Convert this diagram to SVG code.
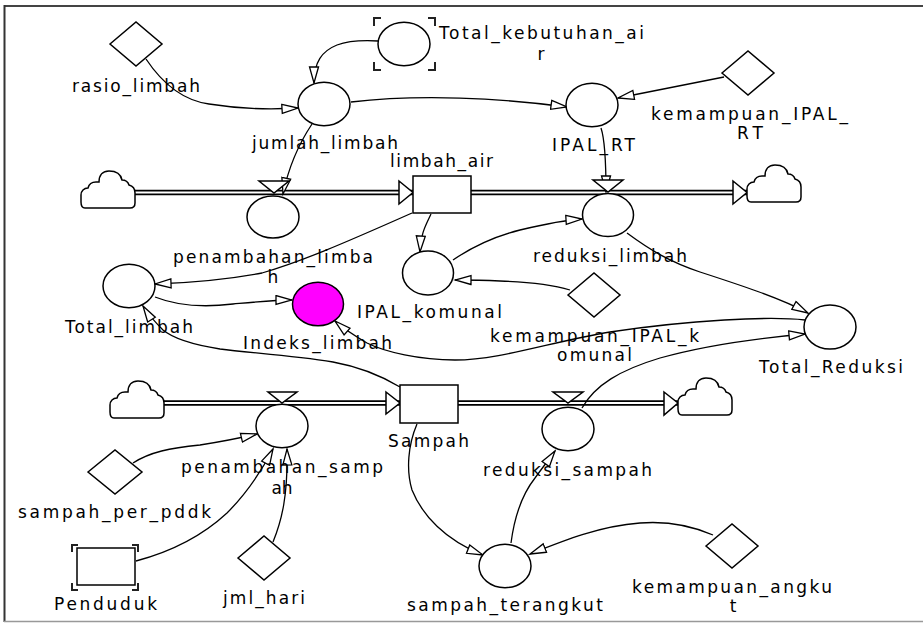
<svg xmlns="http://www.w3.org/2000/svg" xmlns:xlink="http://www.w3.org/1999/xlink" width="923" height="623" viewBox="0 0 923 623">
  <defs>
    <style>
      .lbl { font-family: "DejaVu Sans", Verdana, sans-serif; font-size: 17px; fill: #000; text-anchor: middle; }
      .aux { fill: #fff; stroke: #000; stroke-width: 1.5; }
      .mag { fill: #ff00ff; stroke: #000; stroke-width: 1.5; }
      .ghost { fill: none; stroke: #222; stroke-width: 2; }
      .link { fill: none; stroke: #000; stroke-width: 1.3; marker-end: url(#arrow); }
      .pipe-out { fill: none; stroke: #000; stroke-width: 5.5; }
      .pipe-in { fill: none; stroke: #fff; stroke-width: 2.2; }
      .head { fill: #fff; stroke: #000; stroke-width: 1.5; stroke-linejoin: miter; }
      .cloud { fill: #fff; stroke: #000; stroke-width: 1.5; }
    </style>
    <marker id="arrow" markerUnits="userSpaceOnUse" viewBox="-1 -1 19 12" markerWidth="19" markerHeight="12" refX="16" refY="4.5" orient="auto">
      <path d="M0,0 L16,4.5 L0,9 Z" fill="#fff" stroke="#000" stroke-width="1.3"/>
    </marker>
    <path id="cloudShape" class="cloud" d="M4,38 C1,38 0,35 0,32 L0,25 C0,21 3,18 7,18 C8,14 11,12 15,12 L18,12 C18,5 22,1 28,1 C36,1 40,5 41,10 C45,10 47,12 48,15 C52,16 54,19 54,23 L54,33 C54,36 52,38 49,38 Z"/>
  </defs>

  <rect width="923" height="623" fill="#fff"/>

  <!-- frame -->
  <g id="frame">
    <line x1="4" y1="6" x2="923" y2="6" stroke="#444" stroke-width="2"/>
    <line x1="4.5" y1="5" x2="4.5" y2="622" stroke="#333" stroke-width="2"/>
    <line x1="4" y1="621.5" x2="923" y2="621.5" stroke="#999" stroke-width="1.5"/>
  </g>

  <!-- material flows (pipes) -->
  <g id="flows">
    <path class="pipe-out" d="M135,192.5 H413 M471,192.5 H747"/>
    <path class="pipe-in" d="M134,192.5 H413 M471,192.5 H747"/>
    <path class="pipe-out" d="M164,403 H400 M458,403 H678"/>
    <path class="pipe-in" d="M163,403 H400 M458,403 H678"/>
    <polygon class="head" points="399,181 413,192.5 399,204"/>
    <polygon class="head" points="733,181 747,192.5 733,204"/>
    <polygon class="head" points="386,392 400,403 386,414"/>
    <polygon class="head" points="664,392 678,403 664,415"/>
    <use xlink:href="#cloudShape" transform="translate(81,170)"/>
    <use xlink:href="#cloudShape" transform="translate(747,164)"/>
    <use xlink:href="#cloudShape" transform="translate(110,380)"/>
    <use xlink:href="#cloudShape" transform="translate(678,377)"/>
  </g>

  <!-- information links -->
  <g id="connectors">
    <path class="link" d="M146,59 C160,80 180,100 209,104 C240,109 265,110 298,108"/>
    <path class="link" d="M378,41 C360,40 345,42 337,45 C322,51 314,62 314,83"/>
    <path class="link" d="M312,124 C298,145 288,170 283,194"/>
    <path class="link" d="M351,102 C420,94 500,98 567,107"/>
    <path class="link" d="M724,77 L618,98"/>
    <path class="link" d="M601,128 C605,140 606,160 606,192"/>
    <path class="link" d="M412,213 C340,245 300,262 262,273 C220,281 185,283 155,284"/>
    <path class="link" d="M431,214 C426,225 421,232 420,252"/>
    <path class="link" d="M453,260 C475,245 500,235 520,230 C545,224 565,220 582,219"/>
    <path class="link" d="M570,290 C550,284 530,282 500,281 C480,280 468,280 455,280"/>
    <path class="link" d="M627,233 C650,250 670,262 700,272 C740,285 780,298 808,313"/>
    <path class="link" d="M805,320 C770,316 690,320 610,332 C550,342 500,360 455,360 C420,360 385,352 367,343 C355,336 343,328 335,321"/>
    <path class="link" d="M155,297 C175,305 200,308 233,304 C255,302 275,300 292,300"/>
    <path class="link" d="M400,387 C380,375 355,366 333,362 C290,355 250,353 220,349 C195,345 175,340 163,330 C155,322 148,314 143,306"/>
    <path class="link" d="M133,463 C150,452 170,448 200,445 C225,441 240,438 257,434"/>
    <path class="link" d="M136,561 C170,552 200,538 227,513 C245,495 262,470 273,449"/>
    <path class="link" d="M273,542 C282,520 288,495 287,449"/>
    <path class="link" d="M417,424 C408,445 406,470 412,490 C422,515 445,540 483,555"/>
    <path class="link" d="M511,543 C514,520 520,497 535,478 C543,467 550,458 555,451"/>
    <path class="link" d="M713,535 C690,525 665,521 640,523 C600,526 565,540 530,554"/>
    <path class="link" d="M582,408 C595,385 620,370 660,358 C710,344 760,338 805,334"/>
  </g>

  <!-- valves -->
  <g id="valves">
    <polygon class="head" points="259,181 289,181 274,193"/>
    <polygon class="head" points="593,180 623,180 608,192"/>
    <polygon class="head" points="268,392 297,392 282,403"/>
    <polygon class="head" points="553,392 583,392 568,403"/>
  </g>

  <g id="rasio_limbah">
    <polygon class="aux" points="110,44 136,22 162,44 136,66"/>
    <text class="lbl" x="136" y="92" textLength="128" lengthAdjust="spacing">rasio_limbah</text>
  </g>

  <g id="Total_kebutuhan_air">
    <path class="ghost" d="M374,26 V18 H381 M428,18 H435 V26 M374,62 V70 H381 M428,70 H435 V62"/>
    <ellipse class="aux" cx="404" cy="44" rx="26" ry="21.7"/>
    <text class="lbl" x="541.5" y="39" textLength="205" lengthAdjust="spacing">Total_kebutuhan_ai</text>
    <text class="lbl" x="541" y="60">r</text>
  </g>

  <g id="jumlah_limbah">
    <ellipse class="aux" cx="324" cy="104" rx="26" ry="21.7"/>
    <text class="lbl" x="325" y="149" textLength="146" lengthAdjust="spacing">jumlah_limbah</text>
  </g>

  <g id="IPAL_RT">
    <ellipse class="aux" cx="592" cy="105" rx="26" ry="21.7"/>
    <text class="lbl" x="593.5" y="151" textLength="83" lengthAdjust="spacing">IPAL_RT</text>
  </g>

  <g id="kemampuan_IPAL_RT">
    <polygon class="aux" points="722,73 748,51 774,73 748,95"/>
    <text class="lbl" x="749.5" y="120" textLength="197" lengthAdjust="spacing">kemampuan_IPAL_</text>
    <text class="lbl" x="750" y="139" textLength="26" lengthAdjust="spacing">RT</text>
  </g>

  <g id="limbah_air">
    <rect class="aux" x="413" y="176" width="58" height="37"/>
    <text class="lbl" x="441.5" y="167" textLength="103" lengthAdjust="spacing">limbah_air</text>
  </g>

  <g id="penambahan_limbah">
    <ellipse class="aux" cx="273" cy="217" rx="26" ry="21"/>
    <text class="lbl" x="273" y="263" textLength="200" lengthAdjust="spacing">penambahan_limba</text>
    <text class="lbl" x="273" y="283">h</text>
  </g>

  <g id="reduksi_limbah">
    <ellipse class="aux" cx="608" cy="215" rx="25.5" ry="21.5"/>
    <text class="lbl" x="610" y="262" textLength="154" lengthAdjust="spacing">reduksi_limbah</text>
  </g>

  <g id="IPAL_komunal">
    <ellipse class="aux" cx="428" cy="273" rx="25.5" ry="22"/>
    <text class="lbl" x="429.5" y="318" textLength="145" lengthAdjust="spacing">IPAL_komunal</text>
  </g>

  <g id="kemampuan_IPAL_komunal">
    <polygon class="aux" points="568,295 594,273 620,295 594,317"/>
    <text class="lbl" x="594.5" y="342" textLength="209" lengthAdjust="spacing">kemampuan_IPAL_k</text>
    <text class="lbl" x="594.5" y="361" textLength="75" lengthAdjust="spacing">omunal</text>
  </g>

  <g id="Total_limbah">
    <ellipse class="aux" cx="129" cy="286" rx="26" ry="21.7"/>
    <text class="lbl" x="129" y="333" textLength="128" lengthAdjust="spacing">Total_limbah</text>
  </g>

  <g id="Indeks_limbah">
    <ellipse class="mag" cx="318" cy="304" rx="25.5" ry="21.8"/>
    <text class="lbl" x="317.5" y="349" textLength="149" lengthAdjust="spacing">Indeks_limbah</text>
  </g>

  <g id="Total_Reduksi">
    <ellipse class="aux" cx="830" cy="327" rx="26" ry="22"/>
    <text class="lbl" x="831" y="373" textLength="144" lengthAdjust="spacing">Total_Reduksi</text>
  </g>

  <g id="Sampah">
    <rect class="aux" x="400" y="385" width="58" height="38"/>
    <text class="lbl" x="428.5" y="447" textLength="81" lengthAdjust="spacing">Sampah</text>
  </g>

  <g id="penambahan_sampah">
    <ellipse class="aux" cx="282" cy="426" rx="26" ry="21.7"/>
    <text class="lbl" x="282" y="473" textLength="202" lengthAdjust="spacing">penambahan_samp</text>
    <text class="lbl" x="282" y="494">ah</text>
  </g>

  <g id="reduksi_sampah">
    <ellipse class="aux" cx="568" cy="429" rx="26" ry="21.7"/>
    <text class="lbl" x="567.5" y="476" textLength="169" lengthAdjust="spacing">reduksi_sampah</text>
  </g>

  <g id="sampah_per_pddk">
    <polygon class="aux" points="88,472 115,450 142,472 115,494"/>
    <text class="lbl" x="114.5" y="518" textLength="193" lengthAdjust="spacing">sampah_per_pddk</text>
  </g>

  <g id="Penduduk">
    <path class="ghost" d="M72,552 V545 H78 M132,545 H138 V552 M72,583 V590 H78 M132,590 H138 V583"/>
    <rect class="aux" x="77" y="548" width="58" height="37"/>
    <text class="lbl" x="105.5" y="610" textLength="103" lengthAdjust="spacing">Penduduk</text>
  </g>

  <g id="jml_hari">
    <polygon class="aux" points="238,558 264,536 290,558 264,580"/>
    <text class="lbl" x="264" y="604" textLength="82" lengthAdjust="spacing">jml_hari</text>
  </g>

  <g id="sampah_terangkut">
    <ellipse class="aux" cx="505" cy="566" rx="26" ry="21.7"/>
    <text class="lbl" x="505" y="611" textLength="196" lengthAdjust="spacing">sampah_terangkut</text>
  </g>

  <g id="kemampuan_angkut">
    <polygon class="aux" points="706,546 732,524 758,546 732,568"/>
    <text class="lbl" x="732" y="593" textLength="200" lengthAdjust="spacing">kemampuan_angku</text>
    <text class="lbl" x="733" y="612">t</text>
  </g>
</svg>
